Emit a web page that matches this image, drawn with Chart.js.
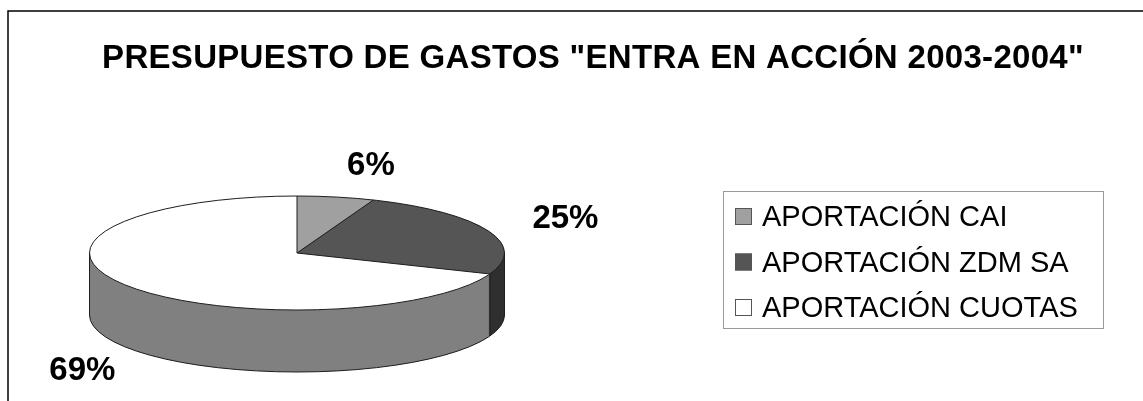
<!DOCTYPE html>
<html><head><meta charset="utf-8">
<script src="https://cdn.jsdelivr.net/npm/chart.js@4.4.1/dist/chart.umd.min.js"></script>
<style>html,body{margin:0;padding:0;background:#fff;overflow:hidden}</style>
</head><body>
<canvas id="c" width="1143" height="401" style="display:block"></canvas>
<script>
const titleText = 'PRESUPUESTO DE GASTOS "ENTRA EN ACCIÓN 2003-2004"';
const categories = ['APORTACIÓN CAI', 'APORTACIÓN ZDM SA', 'APORTACIÓN CUOTAS'];
const values = [6, 25, 69];
const percentLabels = ['6%', '25%', '69%'];

// styles
const topColors = ['#a0a0a0', '#555555', '#ffffff'];
const sideColors = ['#6e6e6e', '#2f2f2f', '#808080'];
const GEO = {cx: 297, cy: 253, rx: 207.5, ry: 57, depth: 62};
const LABEL_OFFSETS = [[35, -22], [78, -2], [-43, 95]];
const FONT = '"Liberation Sans", Arial, sans-serif';

function applyTransform(ctx, a) {
  ctx.translate(GEO.cx, GEO.cy);
  ctx.scale(GEO.rx / a.outerRadius, GEO.ry / a.outerRadius);
  ctx.translate(-a.x, -a.y);
}

const pie3d = {
  id: 'pie3d',
  beforeDraw(chart) {
    const ctx = chart.ctx;
    ctx.save();
    ctx.fillStyle = '#fff';
    ctx.fillRect(0, 0, chart.width, chart.height);
    ctx.strokeStyle = '#000';
    ctx.lineWidth = 1.5;
    ctx.beginPath();
    ctx.moveTo(8, chart.height);
    ctx.lineTo(8, 11);
    ctx.lineTo(chart.width, 11);
    ctx.stroke();
    ctx.restore();
    ctx.letterSpacing = '0.3px';
  },
  beforeDatasetsDraw(chart) {
    const ctx = chart.ctx;
    ctx.letterSpacing = '0px';
    const arcs = chart.getDatasetMeta(0).data;
    for (let k = GEO.depth; k >= 1; k--) {
      ctx.save();
      ctx.translate(0, k);
      applyTransform(ctx, arcs[0]);
      arcs.forEach((a, i) => {
        ctx.beginPath();
        ctx.moveTo(a.x, a.y);
        ctx.arc(a.x, a.y, a.outerRadius, a.startAngle, a.endAngle);
        ctx.closePath();
        ctx.fillStyle = sideColors[i];
        ctx.fill();
      });
      ctx.restore();
    }
  },
  beforeDatasetDraw(chart) {
    const ctx = chart.ctx;
    ctx.save();
    applyTransform(ctx, chart.getDatasetMeta(0).data[0]);
  },
  afterDatasetDraw(chart) {
    chart.ctx.restore();
  },
  afterDatasetsDraw(chart) {
    const ctx = chart.ctx;
    const arcs = chart.getDatasetMeta(0).data;
    const {cx, cy, rx, ry, depth} = GEO;
    ctx.save();
    ctx.strokeStyle = '#1e1e1e';
    ctx.lineWidth = 1;
    ctx.beginPath();
    ctx.ellipse(cx, cy, rx, ry, 0, 0, Math.PI * 2);
    ctx.stroke();
    ctx.beginPath();
    ctx.ellipse(cx, cy + depth, rx, ry, 0, 0, Math.PI);
    ctx.stroke();
    ctx.beginPath();
    ctx.moveTo(cx - rx, cy); ctx.lineTo(cx - rx, cy + depth);
    ctx.moveTo(cx + rx, cy); ctx.lineTo(cx + rx, cy + depth);
    ctx.stroke();
    arcs.forEach((a) => {
      const ang = a.startAngle;
      const px = cx + rx * Math.cos(ang), py = cy + ry * Math.sin(ang);
      ctx.beginPath();
      ctx.moveTo(cx, cy); ctx.lineTo(px, py);
      ctx.stroke();
      if (Math.sin(ang) > 0.02) {
        ctx.beginPath();
        ctx.moveTo(px, py); ctx.lineTo(px, py + depth);
        ctx.stroke();
      }
    });
    ctx.fillStyle = '#000';
    ctx.font = 'bold 33px ' + FONT;
    ctx.textAlign = 'center';
    ctx.textBaseline = 'alphabetic';
    arcs.forEach((a, i) => {
      const mid = (a.startAngle + a.endAngle) / 2;
      const ax = cx + rx * Math.cos(mid), ay = cy + ry * Math.sin(mid);
      ctx.fillText(percentLabels[i], ax + LABEL_OFFSETS[i][0], ay + LABEL_OFFSETS[i][1]);
    });
    ctx.restore();
  },
  afterDraw(chart) {
    const ctx = chart.ctx;
    const ds = chart.data.datasets[0];
    ctx.save();
    ctx.strokeStyle = '#9a9a9a';
    ctx.lineWidth = 1;
    ctx.strokeRect(723.5, 191.5, 380, 137);
    ctx.font = '29px ' + FONT;
    ctx.textAlign = 'left';
    ctx.textBaseline = 'alphabetic';
    chart.data.labels.forEach((lab, i) => {
      const base = 226 + i * 45.5;
      ctx.fillStyle = ds.backgroundColor[i];
      ctx.fillRect(735, base - 18, 17, 17);
      ctx.strokeStyle = '#555';
      ctx.strokeRect(735.5, base - 17.5, 16, 16);
      ctx.fillStyle = '#000';
      ctx.fillText(lab, 762, base);
    });
    ctx.restore();
  }
};

new Chart(document.getElementById('c'), {
  type: 'pie',
  data: {
    labels: categories,
    datasets: [{
      data: values,
      backgroundColor: topColors,
      borderWidth: 0,
      clip: false
    }]
  },
  options: {
    responsive: false,
    animation: false,
    events: [],
    layout: {padding: {left: 43, right: 0, top: 0, bottom: 0}},
    plugins: {
      legend: {display: false},
      tooltip: {enabled: false},
      title: {
        display: true,
        text: titleText,
        color: '#000',
        font: {family: FONT, size: 33, weight: 'bold'},
        padding: {top: 39, bottom: 10}
      }
    }
  },
  plugins: [pie3d]
});
</script>
</body></html>
